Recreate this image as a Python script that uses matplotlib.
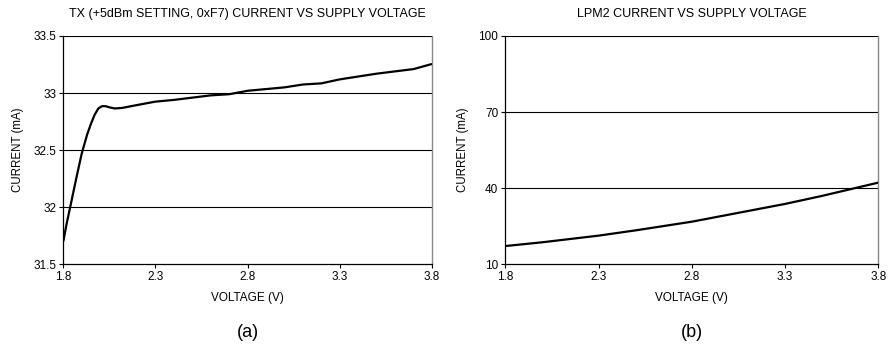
import matplotlib
matplotlib.use("Agg")
import matplotlib.pyplot as plt
import numpy as np

plt.rcParams['font.family'] = ['Liberation Sans', 'DejaVu Sans']

# Panel (a): TX current vs supply voltage
volt_a = [1.80, 1.82, 1.84, 1.87, 1.90, 1.93, 1.95, 1.97, 1.99, 2.01, 2.03, 2.05, 2.08, 2.12,
          2.2, 2.3, 2.4, 2.5, 2.6, 2.7, 2.8, 2.9, 3.0, 3.1, 3.2, 3.3, 3.4, 3.5, 3.6, 3.7, 3.8]
curr_a = [31.70, 31.87, 32.02, 32.25, 32.47, 32.64, 32.73, 32.81, 32.865, 32.885, 32.885, 32.875, 32.865, 32.87,
          32.895, 32.925, 32.94, 32.96, 32.98, 32.99, 33.02, 33.035, 33.05, 33.075, 33.085, 33.12,
          33.145, 33.17, 33.19, 33.21, 33.255]

# Panel (b): LPM2 current vs supply voltage
volt_b = [1.8, 2.0, 2.3, 2.5, 2.8, 3.0, 3.3, 3.5, 3.8]
curr_b = [17.2, 18.7, 21.3, 23.4, 26.8, 29.6, 33.8, 37.0, 42.2]

xticks = [1.8, 2.3, 2.8, 3.3, 3.8]
yticks_a = [31.5, 32, 32.5, 33, 33.5]
ytick_labels_a = ['31.5', '32', '32.5', '33', '33.5']
yticks_b = [10, 40, 70, 100]

title_a = 'TX (+5dBm SETTING, 0xF7) CURRENT VS SUPPLY VOLTAGE'
title_b = 'LPM2 CURRENT VS SUPPLY VOLTAGE'

fig = plt.figure(figsize=(8.9, 3.47), dpi=100)

def style(ax, yticks, ylabels, title, panel):
    ax.set_xlim(1.8, 3.8)
    ax.set_ylim(yticks[0], yticks[-1])
    ax.set_xticks(xticks)
    ax.set_xticklabels([f'{t:.1f}' for t in xticks])
    ax.set_yticks(yticks)
    ax.set_yticklabels(ylabels)
    ax.tick_params(axis='both', labelsize=8.5, length=3, width=0.8, color='black', pad=2)
    for yv in yticks[1:]:
        ax.axhline(yv, color='black', lw=0.8, zorder=1)
    ax.spines['top'].set_visible(False)
    ax.spines['right'].set_color('#888888')
    ax.spines['right'].set_linewidth(1.0)
    ax.spines['left'].set_linewidth(0.9)
    ax.spines['bottom'].set_linewidth(0.9)
    ax.set_xlabel('VOLTAGE (V)', fontsize=8.5, labelpad=6)
    ax.set_ylabel('CURRENT (mA)', fontsize=8.3, labelpad=7)
    ax.set_title(title, fontsize=9, pad=14)
    ax.text(0.5, -0.30, panel, transform=ax.transAxes, ha='center', va='center', fontsize=13)

ax1 = fig.add_axes([0.0711, 0.2383, 0.4143, 0.658])
ax1.plot(volt_a, curr_a, color='black', lw=1.6, zorder=3, solid_capstyle='butt')
style(ax1, yticks_a, ytick_labels_a, title_a, '(a)')

ax2 = fig.add_axes([0.5678, 0.2383, 0.4191, 0.658])
ax2.plot(volt_b, curr_b, color='black', lw=1.6, zorder=3, solid_capstyle='butt')
style(ax2, yticks_b, [str(v) for v in yticks_b], title_b, '(b)')

fig.savefig('out.png', dpi=100)
